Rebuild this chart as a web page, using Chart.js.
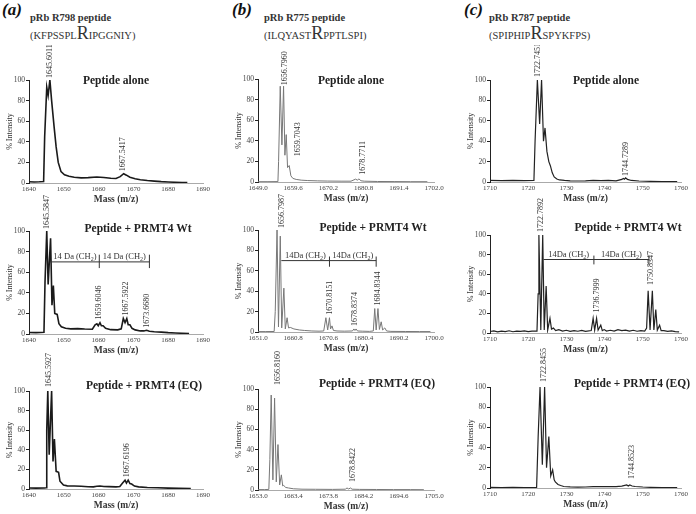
<!DOCTYPE html>
<html>
<head>
<meta charset="utf-8">
<script src="https://cdn.jsdelivr.net/npm/chart.js@4.4.1/dist/chart.umd.min.js"></script>
<style>
  html, body { margin: 0; padding: 0; background: #fff; }
  #fig { position: relative; width: 696px; height: 514px; overflow: hidden;
         font-family: "Liberation Serif", "DejaVu Serif", serif; color: #222; }
  #fig canvas { position: absolute; }
  .txt { position: absolute; white-space: nowrap; }
  .letter { font-weight: bold; font-style: italic; font-size: 17px; color: #111; }
  .pep { font-weight: bold; font-size: 10.5px; color: #333; transform: translateY(-50%); }
  .seq { font-size: 10.5px; color: #333; transform: translateY(-50%); }
  .seq span { font-size: 18px; }
  .ttl { font-weight: bold; font-size: 11.5px; color: #222; transform: translate(-50%, -50%); }
</style>
</head>
<body>
<div id="fig"></div>
<script>
// ---- header / title texts
const panelLetters = ['(a)', '(b)', '(c)'];
const peptideNames = ['pRb R798 peptide', 'pRb R775 peptide', 'pRb R787 peptide'];
const peptideSeqs = [['(KFPSSPL', 'R', 'IPGGNIY)'], ['(ILQYAST', 'R', 'PPTLSPI)'], ['(SPIPHIP', 'R', 'SPYKFPS)']];
const panelTitles = ['Peptide alone', 'Peptide + PRMT4 Wt', 'Peptide + PRMT4 (EQ)'];

// ---- tick labels
const yTicks = [0, 10, 20, 30, 40, 50, 60, 70, 80, 90, 100];
const ticksA = [1640, 1650, 1660, 1670, 1680, 1690];
const ticksB1 = [1649.0, 1659.6, 1670.2, 1680.8, 1691.4, 1702.0];
const ticksB2 = [1651.0, 1660.8, 1670.6, 1680.4, 1690.2, 1700.0];
const ticksB3 = [1653.0, 1663.4, 1673.8, 1684.2, 1694.6, 1705.0];
const ticksC = [1710, 1720, 1730, 1740, 1750, 1760];

// ---- spectra [mass, % intensity]
const aloneA = [[1640,1.2],[1641.5,1.0],[1643,1.2],[1644.2,1.5],[1644.5,45],[1645.1,93],[1645.5,85],[1646.0,100],[1646.5,80],[1647.2,55],[1647.8,35],[1648.4,20],[1649.2,11],[1650.2,8],[1651.5,6.5],[1653,5.6],[1655,5],[1657,5.2],[1659.5,5.8],[1661.5,5.3],[1663.5,4.6],[1665,4.4],[1666.2,6.2],[1667.2,9],[1668,7.6],[1669,5.6],[1670.5,4.2],[1672,3.2],[1674,2.4],[1676,1.8],[1678,1.3],[1680,1],[1682,0.7],[1684,0.5],[1685.5,0.4]];
const wtA = [[1640,1.5],[1642,1.3],[1644.3,1.6],[1644.6,50],[1645.1,100],[1645.5,48],[1646.2,93],[1646.6,28],[1647.0,47],[1647.4,20],[1648.1,19],[1648.6,10],[1649.3,7],[1650.5,5.5],[1652,5],[1654,5.2],[1656,4.8],[1658.2,4.6],[1659.0,9],[1659.5,10],[1659.9,8],[1660.4,11],[1660.8,8],[1661.3,8],[1662,5.5],[1663.5,4.2],[1665.5,4],[1666.5,5],[1667.1,15],[1667.6,11],[1668.1,15],[1668.5,9],[1669,9],[1669.6,5.5],[1670.5,4],[1672,3],[1673,3],[1673.8,3.6],[1674.6,2.6],[1676,2.2],[1678,1.8],[1680,1.3],[1682,1],[1684,0.7],[1686,0.5]];
const eqA = [[1640,1.0],[1642,0.9],[1644.5,1.0],[1644.9,1.2],[1645.1,60],[1645.4,100],[1645.8,35],[1646.5,100],[1646.9,28],[1647.3,51],[1647.8,18],[1648.5,17],[1648.9,8],[1649.9,4],[1651,3.2],[1653,3],[1655,2.8],[1657,2.3],[1658.5,2.2],[1659.5,2.8],[1660.4,3],[1661.5,2.6],[1663,2.4],[1665,2.2],[1666.1,2.5],[1666.9,6],[1667.6,9],[1668,6],[1668.5,9],[1669,5.5],[1669.5,5],[1670.3,3],[1671.5,2.2],[1674,1.6],[1677,1.2],[1680,0.9],[1683,0.6],[1686.5,0.4]];

const aloneB = [[1649,0.3],[1652,0.3],[1655,0.4],[1655.2,20],[1655.7,93],[1656.2,36],[1656.7,93],[1657.1,26],[1657.5,46],[1657.9,14],[1658.4,16],[1658.9,6],[1659.5,3.5],[1660.5,2.5],[1662,1.8],[1664,1.4],[1667,1.1],[1670,0.9],[1674,0.8],[1677,0.8],[1678.4,2.8],[1678.9,1.8],[1679.4,3],[1680,1.2],[1681,0.8],[1685,0.5],[1690,0.4],[1695,0.3],[1700,0.3]];
const wtB = [[1651,0.4],[1653,0.4],[1655.5,0.5],[1655.8,20],[1656.3,100],[1656.7,5],[1657.2,94],[1657.6,4],[1658.2,43],[1658.6,3],[1659.1,14],[1659.5,4],[1660,4.5],[1661,3],[1662.5,2],[1664,1.5],[1666,1],[1668,0.8],[1669.3,1],[1669.9,14],[1670.4,2],[1670.9,14],[1671.2,3],[1671.6,6],[1672,1.5],[1673,1],[1675,0.8],[1677.3,1],[1677.7,3],[1678,1.5],[1678.3,3],[1678.7,1],[1680,0.8],[1682,0.6],[1683.1,1],[1683.5,23],[1683.9,2],[1684.4,23],[1684.8,2.5],[1685.3,10],[1685.7,2],[1686.3,4],[1686.8,1],[1688,0.6],[1692,0.5],[1696,0.4],[1699,0.4]];
const eqB = [[1653,0.4],[1655,0.4],[1656.2,0.6],[1656.5,30],[1656.9,94],[1657.4,10],[1657.9,91],[1658.4,8],[1658.9,45],[1659.4,5],[1659.9,15],[1660.3,4],[1660.6,4.5],[1661.2,2.5],[1662,2],[1663.5,1.2],[1666,0.8],[1670,0.7],[1675,0.6],[1678.8,0.8],[1679.3,2],[1679.8,1],[1680.3,2],[1680.8,0.8],[1683,0.6],[1688,0.5],[1693,0.4],[1698,0.4],[1702,0.3]];

const aloneC = [[1710,1.5],[1713,1.3],[1716,1.6],[1719,1.4],[1721.5,1.5],[1721.8,40],[1722.4,100],[1723.0,57],[1723.5,100],[1724.0,40],[1724.4,53],[1724.9,30],[1725.4,20],[1725.8,16],[1726.3,9],[1726.8,5],[1727.5,3],[1728.2,2],[1729.5,1.5],[1731,1.2],[1733,1],[1735,1.2],[1737,1.6],[1739,1.3],[1741,1.6],[1743,1.2],[1744.5,2.5],[1744.9,3.5],[1745.2,2.8],[1745.5,4],[1746,2.5],[1747,1.5],[1749,1],[1752,0.7],[1755,0.5],[1759,0.4]];
const wtC = [[1710,1.5],[1711,2.2],[1712,1.2],[1713,2],[1714,1.5],[1715,2.3],[1716,1.3],[1717,2],[1718,1.6],[1719,2.2],[1720,1.4],[1721,2],[1722.3,2],[1722.6,40],[1722.8,100],[1723.3,3],[1723.8,100],[1724.2,3],[1724.7,48],[1725.1,3],[1725.7,15],[1726.1,4],[1726.6,5],[1727.2,2.5],[1728,3.5],[1729,2],[1730,2.8],[1731,1.6],[1732,2.5],[1733,1.8],[1734,2.6],[1735,1.7],[1736.5,2.5],[1737.0,15],[1737.4,3],[1737.9,15],[1738.3,3],[1739.0,8],[1739.4,2.5],[1739.9,3.5],[1740.5,2],[1741.5,2.8],[1742.5,2],[1743.5,3.5],[1744.5,2.5],[1745.5,3],[1746.5,2],[1747.5,2.8],[1748.5,1.8],[1749.5,2.5],[1750.5,2],[1751.0,5],[1751.4,43],[1751.9,3],[1752.5,43],[1752.9,3],[1753.4,24],[1753.8,3],[1754.4,8],[1754.8,2.5],[1755.5,2.5],[1756.5,1.6],[1757.5,2.2],[1758.5,1.5],[1759.5,1.2]];
const eqC = [[1710,0.6],[1713,0.5],[1716,0.6],[1719,0.5],[1722.2,0.6],[1722.6,50],[1723.1,100],[1723.7,23],[1724.3,100],[1724.8,20],[1725.4,51],[1725.9,12],[1726.4,18],[1726.8,8],[1727.1,6],[1727.8,3.5],[1728.5,2.5],[1729.3,1.5],[1731,1.1],[1733,0.9],[1735,1],[1737,1.3],[1739,1.5],[1741,1.4],[1743,1.3],[1744.5,1.8],[1745.8,3],[1746.2,2],[1746.6,3],[1747.2,2],[1748,1.5],[1750,1],[1752,0.7],[1755,0.5],[1759,0.4]];

// ---- peak labels [mass, label base %, text]
const peaksAloneA = [[1646.0, 101, '1645.6011'], [1667.1, 10.5, '1667.5417']];
const peaksWtA = [[1645.1, 101, '1645.5847'], [1660.2, 13, '1659.6046'], [1667.9, 17, '1667.5922'], [1673.8, 5, '1673.6680']];
const peaksEqA = [[1645.8, 103, '1645.5927'], [1668.0, 11, '1667.6196']];
const peaksAloneB = [[1657.2, 93, '1656.7960'], [1661.0, 24, '1659.7043'], [1680.5, 6, '1678.7711']];
const peaksWtB = [[1657.7, 101, '1656.7987'], [1671.1, 16, '1670.8151'], [1678.1, 5, '1678.8374'], [1684.3, 25, '1684.8344']];
const peaksEqB = [[1659.0, 103, '1656.8160'], [1681.0, 7, '1678.8422']];
const peaksAloneC = [[1722.6, 102, '1722.7451'], [1745.7, 5, '1744.7289']];
const peaksWtC = [[1723.4, 102, '1722.7892'], [1738.1, 20, '1736.7999'], [1752.1, 48, '1750.8347']];
const peaksEqC = [[1724.1, 104, '1722.8455'], [1747.2, 8, '1744.8523']];

// ---- methylation brackets: start, middle, end mass; level; tick low/high
const bracketA = [1646.2, 1660.2, 1674.6];
const bracketB = [1657.5, 1670.9, 1683.9];
const bracketC = [1724.0, 1737.2, 1751.6];

Chart.defaults.font.family = "'Liberation Serif', 'DejaVu Serif', serif";
Chart.defaults.color = '#333';

const fig = document.getElementById('fig');
const YW = 29, XH = 23;

// column geometry
const cols = [
  { L: 29, R: 203, letterX: 2, textX: 30, color: '#1a1a1a', width: 1.6 },
  { L: 258, R: 434, letterX: 232, textX: 264, color: '#777', width: 1 },
  { L: 490, R: 681, letterX: 464, textX: 489, color: '#222', width: 1.2 }
];
const rowTops = [45, 192, 345];

const panels = [
  { col: 0, row: 0, T: 80, B: 183, data: aloneA, ticks: ticksA, peaks: peaksAloneA, title: [116, 80] },
  { col: 0, row: 1, T: 231, B: 334, data: wtA, ticks: ticksA, peaks: peaksWtA, title: [138, 228],
    bracket: { x: bracketA, y: 70, lo: 64, hi: 77, text: '14 Da (CH' } },
  { col: 0, row: 2, T: 391, B: 489, data: eqA, ticks: ticksA, peaks: peaksEqA, title: [144, 385] },
  { col: 1, row: 0, T: 79, B: 182, data: aloneB, ticks: ticksB1, peaks: peaksAloneB, title: [351, 80], dec: 1 },
  { col: 1, row: 1, T: 230, B: 332, data: wtB, ticks: ticksB2, peaks: peaksWtB, title: [373, 227], dec: 1,
    bracket: { x: bracketB, y: 70, lo: 64, hi: 74, text: '14Da (CH' } },
  { col: 1, row: 2, T: 389, B: 490, data: eqB, ticks: ticksB3, peaks: peaksEqB, title: [377, 383], dec: 1 },
  { col: 2, row: 0, T: 80, B: 182, data: aloneC, ticks: ticksC, peaks: peaksAloneC, title: [606, 80] },
  { col: 2, row: 1, T: 235, B: 333, data: wtC, ticks: ticksC, peaks: peaksWtC, title: [628, 227],
    bracket: { x: bracketC, y: 75, lo: 70, hi: 79, text: '14Da (CH' } },
  { col: 2, row: 2, T: 387, B: 488, data: eqC, ticks: ticksC, peaks: peaksEqC, title: [632, 383] }
];

function addText(cls, html, x, y) {
  const d = document.createElement('div');
  d.className = 'txt ' + cls;
  d.innerHTML = html;
  d.style.left = x + 'px';
  d.style.top = y + 'px';
  fig.appendChild(d);
}

// "14 Da (CH2)" with a subscript 2
function drawCH2(ctx, text, cx, y) {
  const big = "8.5px 'Liberation Serif', serif", small = "6px 'Liberation Serif', serif";
  ctx.font = big;
  const w1 = ctx.measureText(text).width, w3 = ctx.measureText(')').width;
  ctx.font = small;
  const w2 = ctx.measureText('2').width;
  let x = cx - (w1 + w2 + w3) / 2;
  ctx.textAlign = 'left';
  ctx.textBaseline = 'alphabetic';
  ctx.font = big; ctx.fillText(text, x, y); x += w1;
  ctx.font = small; ctx.fillText('2', x, y + 2); x += w2;
  ctx.font = big; ctx.fillText(')', x, y);
}

function makePanel(p) {
  const c = cols[p.col];
  const left = c.L - YW, top = rowTops[p.row];
  const cw = c.R - left + 12;
  const ch = Math.min(514, p.B + XH + 2) - top;
  const cv = document.createElement('canvas');
  cv.width = cw; cv.height = ch;
  cv.style.left = left + 'px'; cv.style.top = top + 'px';
  cv.style.width = cw + 'px'; cv.style.height = ch + 'px';
  fig.appendChild(cv);

  const annotate = {
    id: 'annotate',
    afterDraw(chart) {
      const ctx = chart.ctx, xs = chart.scales.x, ys = chart.scales.y;
      ctx.save();
      ctx.fillStyle = '#333';
      ctx.font = "8px 'Liberation Serif', serif";
      p.peaks.forEach(([m, lvl, txt]) => {
        ctx.save();
        ctx.translate(xs.getPixelForValue(m), ys.getPixelForValue(lvl) - 1);
        ctx.rotate(-Math.PI / 2);
        ctx.textAlign = 'left';
        ctx.textBaseline = 'middle';
        ctx.fillText(txt, 0, 0);
        ctx.restore();
      });
      if (p.bracket) {
        const b = p.bracket;
        const px = b.x.map(v => xs.getPixelForValue(v));
        const yb = ys.getPixelForValue(b.y);
        ctx.strokeStyle = '#333';
        ctx.lineWidth = 1;
        ctx.beginPath();
        ctx.moveTo(px[0], yb); ctx.lineTo(px[2], yb);
        [px[1], px[2]].forEach(x => {
          ctx.moveTo(x, ys.getPixelForValue(b.lo));
          ctx.lineTo(x, ys.getPixelForValue(b.hi));
        });
        ctx.stroke();
        drawCH2(ctx, b.text, (px[0] + px[1]) / 2, yb - 2.5);
        drawCH2(ctx, b.text, (px[1] + px[2]) / 2, yb - 2.5);
      }
      ctx.restore();
    }
  };

  new Chart(cv, {
    type: 'line',
    data: {
      datasets: [{
        data: p.data.map(([x, y]) => ({ x, y })),
        borderColor: c.color,
        borderWidth: c.width,
        pointRadius: 0,
        tension: 0,
        fill: false
      }]
    },
    options: {
      responsive: false,
      animation: false,
      devicePixelRatio: 1,
      layout: { padding: { top: p.T - top, left: 0, right: cw - (c.R - left), bottom: ch - (p.B - top) - XH } },
      plugins: { legend: { display: false }, tooltip: { enabled: false } },
      scales: {
        x: {
          type: 'linear',
          min: p.ticks[0],
          max: p.ticks[p.ticks.length - 1],
          afterBuildTicks: s => { s.ticks = p.ticks.map(v => ({ value: v })); },
          afterFit: s => { s.height = XH; s.paddingLeft = 0; s.paddingRight = 0; },
          ticks: {
            font: { size: 7 }, color: '#444', padding: 2, maxRotation: 0, autoSkip: false,
            callback: v => p.dec ? Number(v).toFixed(1) : String(v)
          },
          grid: { display: false, drawTicks: false },
          border: { display: true, color: '#aaa', width: 1 },
          title: { display: true, text: 'Mass (m/z)', font: { size: 9.5, weight: 'bold' }, color: '#333', padding: { top: 0, bottom: 1 } }
        },
        y: {
          min: 0,
          max: 100,
          afterBuildTicks: s => { s.ticks = yTicks.map(v => ({ value: v })); },
          afterFit: s => { s.width = YW; s.paddingTop = 0; s.paddingBottom = 0; },
          ticks: { font: { size: 7.5 }, color: '#444', padding: 1 },
          grid: { display: true, drawOnChartArea: false, drawTicks: true, tickLength: 3, color: '#222' },
          border: { display: true, color: '#222', width: 1 },
          title: { display: true, text: '% Intensity', font: { size: 8 }, color: '#333', padding: { top: 5, bottom: 0 } }
        }
      }
    },
    plugins: [annotate]
  });

  addText('ttl', panelTitles[p.row], p.title[0], p.title[1]);
}

// headers
cols.forEach((c, i) => {
  addText('letter', panelLetters[i], c.letterX, 0);
  addText('pep', peptideNames[i], c.textX, 17);
  const s = peptideSeqs[i];
  addText('seq', s[0] + '<span>' + s[1] + '</span>' + s[2], c.textX, 33);
});

panels.forEach(makePanel);
</script>
</body>
</html>
